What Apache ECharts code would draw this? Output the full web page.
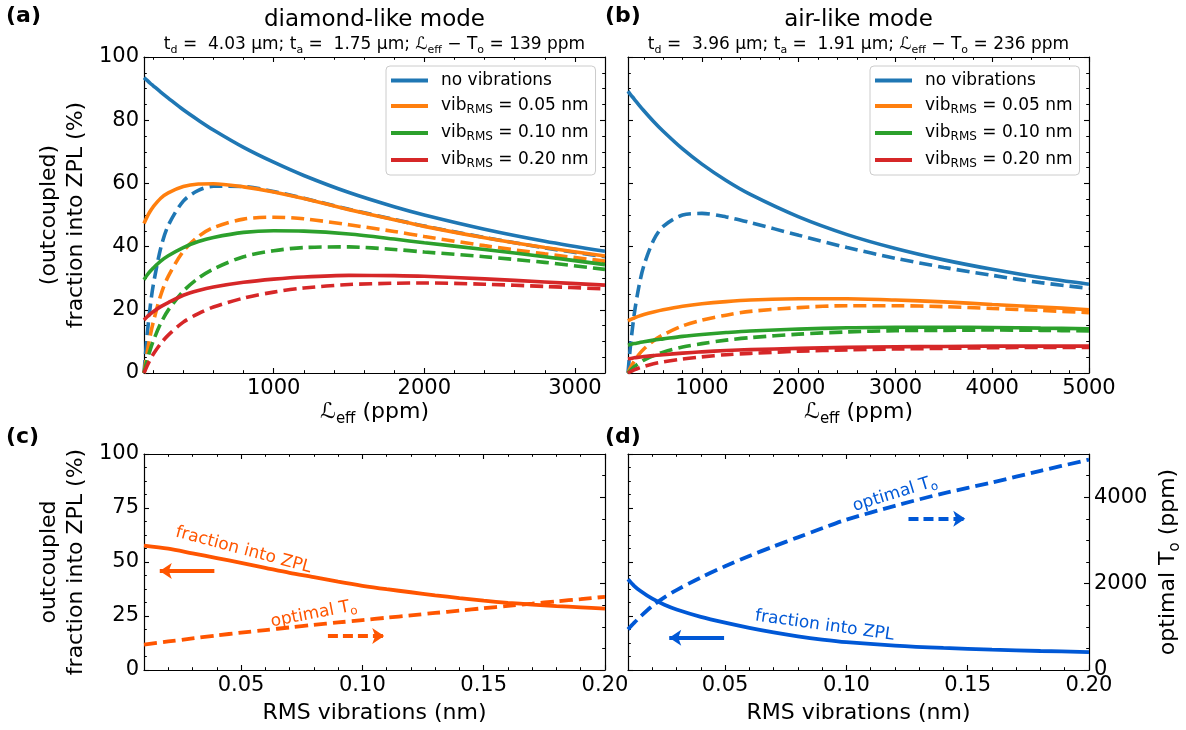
<!DOCTYPE html>
<html><head><meta charset="utf-8">
<script src="https://cdn.jsdelivr.net/npm/echarts@6/dist/echarts.min.js"></script>
<style>html,body{margin:0;padding:0;background:#fff}#c{width:1186px;height:730px}</style>
</head><body><div id="c"></div><script>
// ---------------- DATA ----------------
// (a) diamond-like mode: x = L_eff (ppm); solid = fraction into ZPL, dashed = outcoupled fraction (%)
const xA = [139,160,180,200,250,300,400,500,600,800,1000,1200,1500,1800,2000,2400,2800,3200];
const aNone    = [93.5,92.6,91.7,90.9,88.9,87.0,83.3,80.0,76.9,71.4,66.7,62.5,57.1,52.6,50.0,45.5,41.7,38.5];
const aNoneOut = [0,12.1,20.9,27.7,39.5,46.7,54.4,57.8,59.1,59.0,57.4,55.3,51.8,48.6,46.5,42.9,39.6,36.8];
const a005     = [47.3,49.5,51.2,52.6,55.3,57.0,59.0,59.8,59.9,58.9,57.3,55.2,51.7,48.5,46.4,42.8,39.7,37.0];
const a005Out  = [0,6.5,11.7,16.0,24.6,30.6,38.5,43.2,46.0,48.7,49.3,48.8,46.9,44.8,43.2,40.3,37.7,35.4];
const a010     = [29.5,31.0,32.2,33.2,35.4,37.1,39.7,41.6,42.9,44.5,45.0,44.9,44.0,42.4,41.2,39.1,36.8,34.3];
const a010Out  = [0,4.1,7.3,10.1,15.7,19.9,25.9,30.0,32.9,36.8,38.7,39.7,39.9,39.1,38.3,36.8,35.0,32.8];
const a020     = [16.8,17.8,18.6,19.4,21.0,22.3,24.6,26.1,27.2,28.7,29.7,30.4,30.9,30.8,30.6,29.8,28.8,27.8];
const a020Out  = [0,2.3,4.2,5.9,9.3,12.0,16.1,18.8,20.9,23.7,25.6,26.9,28.0,28.4,28.5,28.1,27.4,26.6];
// (b) air-like mode
const xB = [236,260,300,350,400,500,600,800,1000,1250,1500,2000,2500,3000,3500,4000,4500,5000];
const bNone    = [89.2,88.2,86.7,84.8,83.0,79.6,76.5,70.9,66.1,60.9,56.5,49.4,43.8,39.4,35.8,32.8,30.2,28.1];
const bNoneOut = [0,8.1,18.5,27.6,34.0,42.0,46.4,50.0,50.5,49.4,47.6,43.6,39.7,36.3,33.4,30.9,28.6,26.8];
const b005     = [16.5,16.9,17.4,18.0,18.5,19.3,20.0,21.1,21.9,22.6,23.1,23.5,23.5,23.1,22.5,21.7,20.9,20.0];
const b005Out  = [0,1.6,3.7,5.9,7.6,10.2,12.1,14.9,16.7,18.3,19.5,20.7,21.3,21.3,21.0,20.4,19.8,19.1];
const b010     = [8.8,9.0,9.3,9.6,9.9,10.4,10.8,11.6,12.2,12.8,13.3,13.9,14.3,14.5,14.5,14.4,14.2,14.0];
const b010Out  = [0,0.8,2.0,3.1,4.1,5.5,6.6,8.2,9.3,10.4,11.2,12.3,13.0,13.4,13.5,13.6,13.5,13.3];
const b020     = [4.5,4.6,4.8,5.0,5.2,5.5,5.8,6.3,6.7,7.1,7.4,7.8,8.1,8.3,8.4,8.5,8.5,8.5];
const b020Out  = [0,0.4,1.0,1.6,2.1,2.9,3.5,4.4,5.1,5.8,6.2,6.9,7.3,7.6,7.8,8.0,8.1,8.1];
// (c) diamond-like: vs RMS vibrations (nm)
const xC = [0.01,0.02,0.03,0.04,0.05,0.06,0.07,0.08,0.09,0.10,0.11,0.12,0.13,0.14,0.15,0.16,0.17,0.18,0.19,0.20];
const cFrac = [57.6,56.2,54.0,51.8,49.6,47.3,45.0,43.0,40.9,39.0,37.4,36.0,34.6,33.3,32.1,31.1,30.3,29.6,29.0,28.4];
const cOpt  = [590,660,730,800,865,925,985,1045,1100,1155,1210,1265,1320,1375,1430,1485,1535,1590,1640,1695];
// (d) air-like
const xD = [0.01,0.0125,0.015,0.02,0.025,0.03,0.04,0.05,0.06,0.07,0.08,0.09,0.10,0.12,0.14,0.16,0.18,0.20];
const dFrac = [42.0,39.0,36.7,33.0,30.2,28.0,24.6,21.9,19.5,17.4,15.6,14.1,12.9,11.3,10.2,9.4,8.8,8.3];
const dOpt  = [940,1090,1230,1480,1680,1850,2140,2400,2640,2860,3070,3280,3480,3800,4090,4340,4610,4870];
// tick labels
const ticksXA = [1000,2000,3000];
const ticksXB = [1000,2000,3000,4000,5000];
const ticksYA = [0,20,40,60,80,100];
const ticksXC = [0.05,0.10,0.15,0.20];
const ticksYC = [0,25,50,75,100];
const ticksYR = [0,2000,4000];
const legendNames = ['no vibrations','vib005','vib010','vib020'];

// ---------------- STYLE / LAYOUT ----------------
const FONT = 'DejaVu Sans';
const TICK = 21, LAB = 22;
const C = {blue:'#1f77b4', orange:'#ff7f0e', green:'#2ca02c', red:'#d62728', cO:'#ff5500', cB:'#0058d6'};
const G = [
  {left:144, top:57, width:461, height:316},
  {left:628, top:57, width:461, height:316},
  {left:144, top:454, width:461, height:216},
  {left:628, top:454, width:461, height:216}
];
function range(a,b,s){const r=[];for(let i=0;;i++){const v=+(a+i*s).toFixed(6);if(v>b+1e-9)break;r.push(v);}return r;}
function minors(min,max,step,majors){
  return range(Math.ceil(min/step-1e-9)*step,max,step).filter(v=>v>=min-1e-9&&!majors.some(m=>Math.abs(m-v)<1e-9));
}
const xAxes=[], yAxes=[];
function addPair(list,g,pos,min,max,majors,mins,labelOn,fmt){
  const base={type:'value',gridIndex:g,min,max,position:pos,splitLine:{show:false},axisPointer:{show:false}};
  const idx=list.length;
  list.push(Object.assign({},base,{
    axisLine:{show:true,onZero:false,lineStyle:{color:'#000',width:1.2}},
    axisTick:{show:true,inside:true,length:5,customValues:majors,lineStyle:{color:'#000',width:1.1}},
    axisLabel:{show:labelOn,customValues:majors,formatter:fmt||(v=>String(v)),fontSize:TICK,fontFamily:FONT,color:'#000',margin:5}
  }));
  list.push(Object.assign({},base,{
    axisLine:{show:false,onZero:false},
    axisTick:{show:true,inside:true,length:2.8,customValues:mins,lineStyle:{color:'#000',width:1}},
    axisLabel:{show:false}
  }));
  return idx;
}
const f2 = v=>v.toFixed(2);
const xi=[], yi=[], yr=[];
// (a)
xi[0]=addPair(xAxes,0,'bottom',139,3200,ticksXA,minors(139,3200,200,ticksXA),true);
addPair(xAxes,0,'top',139,3200,ticksXA,minors(139,3200,200,ticksXA),false);
yi[0]=addPair(yAxes,0,'left',0,100,ticksYA,minors(0,100,5,ticksYA),true);
addPair(yAxes,0,'right',0,100,ticksYA,minors(0,100,5,ticksYA),false);
// (b)
xi[1]=addPair(xAxes,1,'bottom',236,5000,ticksXB,minors(236,5000,200,ticksXB),true);
addPair(xAxes,1,'top',236,5000,ticksXB,minors(236,5000,200,ticksXB),false);
yi[1]=addPair(yAxes,1,'left',0,100,ticksYA,minors(0,100,5,ticksYA),false);
addPair(yAxes,1,'right',0,100,ticksYA,minors(0,100,5,ticksYA),false);
// (c)
xi[2]=addPair(xAxes,2,'bottom',0.01,0.20,ticksXC,minors(0.01,0.20,0.01,ticksXC),true,f2);
addPair(xAxes,2,'top',0.01,0.20,ticksXC,minors(0.01,0.20,0.01,ticksXC),false);
yi[2]=addPair(yAxes,2,'left',0,100,ticksYC,minors(0,100,6.25,ticksYC),true);
yr[2]=addPair(yAxes,2,'right',0,5000,ticksYR,minors(0,5000,500,ticksYR),false);
// (d)
xi[3]=addPair(xAxes,3,'bottom',0.01,0.20,ticksXC,minors(0.01,0.20,0.01,ticksXC),true,f2);
addPair(xAxes,3,'top',0.01,0.20,ticksXC,minors(0.01,0.20,0.01,ticksXC),false);
yi[3]=addPair(yAxes,3,'left',0,100,ticksYC,minors(0,100,6.25,ticksYC),false);
yr[3]=addPair(yAxes,3,'right',0,5000,ticksYR,minors(0,5000,500,ticksYR),true);

function line(name,xs,ys,color,dashed,xa,ya,w){
  return {type:'line',name,xAxisIndex:xa,yAxisIndex:ya,data:xs.map((x,i)=>[x,ys[i]]),
    showSymbol:false,symbol:'none',smooth:0.3,silent:true,
    lineStyle:{color,width:w||3.6,type:dashed?[13,6]:'solid',cap:'butt'},itemStyle:{color}};
}
const series=[
  line('no vibrations',xA,aNone,C.blue,false,xi[0],yi[0]),
  line('a0o',xA,aNoneOut,C.blue,true,xi[0],yi[0]),
  line('vib005',xA,a005,C.orange,false,xi[0],yi[0]),
  line('a1o',xA,a005Out,C.orange,true,xi[0],yi[0]),
  line('vib010',xA,a010,C.green,false,xi[0],yi[0]),
  line('a2o',xA,a010Out,C.green,true,xi[0],yi[0]),
  line('vib020',xA,a020,C.red,false,xi[0],yi[0]),
  line('a3o',xA,a020Out,C.red,true,xi[0],yi[0]),
  line('no vibrations',xB,bNone,C.blue,false,xi[1],yi[1]),
  line('b0o',xB,bNoneOut,C.blue,true,xi[1],yi[1]),
  line('vib005',xB,b005,C.orange,false,xi[1],yi[1]),
  line('b1o',xB,b005Out,C.orange,true,xi[1],yi[1]),
  line('vib010',xB,b010,C.green,false,xi[1],yi[1]),
  line('b2o',xB,b010Out,C.green,true,xi[1],yi[1]),
  line('vib020',xB,b020,C.red,false,xi[1],yi[1]),
  line('b3o',xB,b020Out,C.red,true,xi[1],yi[1]),
  line('cf',xC,cFrac,C.cO,false,xi[2],yi[2],3.8),
  line('co',xC,cOpt,C.cO,true,xi[2],yr[2],3.8),
  line('df',xD,dFrac,C.cB,false,xi[3],yi[3],3.8),
  line('do',xD,dOpt,C.cB,true,xi[3],yr[3],3.8)
];
// annotation arrows (data coords on the left axes)
function arrows(color, solidFrom, solidTo, dashFrom, dashTo){
  return {silent:true,symbol:['none','arrow'],symbolSize:12,label:{show:false},
    lineStyle:{color,width:3.8,type:'solid'},
    data:[[{coord:solidFrom},{coord:solidTo}],
          [{coord:dashFrom,lineStyle:{type:[10,5],color,width:3.8}},{coord:dashTo}]]};
}
series[16].markLine=arrows(C.cO,[0.039,45.8],[0.0165,45.8],[0.0858,15.7],[0.109,15.7]);
series[18].markLine=arrows(C.cB,[0.0496,14.9],[0.027,14.9],[0.1256,70],[0.149,70]);

const richLeg={t:{fontSize:17,fontFamily:FONT,color:'#000',lineHeight:20},
  s:{fontSize:12,fontFamily:FONT,color:'#000',lineHeight:12,verticalAlign:'bottom'},
  sp:{width:8}};
const legFmt=n=>({'no vibrations':'{sp| }{t|no vibrations}','vib005':'{sp| }{t|vib}{s|RMS}{t| = 0.05 nm}',
  'vib010':'{sp| }{t|vib}{s|RMS}{t| = 0.10 nm}','vib020':'{sp| }{t|vib}{s|RMS}{t| = 0.20 nm}'})[n];
function legend(left){
  return {left,top:66,orient:'vertical',data:legendNames,icon:'rect',itemWidth:37,itemHeight:4,itemGap:8.5,
    padding:[6,7,5,5],backgroundColor:'rgba(255,255,255,0.85)',borderColor:'#cccccc',borderWidth:1,borderRadius:4,
    selectedMode:false,formatter:legFmt,textStyle:{fontFamily:FONT,fontSize:17,color:'#000',rich:richLeg}};
}

const chart=echarts.init(document.getElementById('c'),null,{renderer:'canvas'});
chart.setOption({
  animation:false,backgroundColor:'#fff',
  textStyle:{fontFamily:FONT},
  grid:G.map(g=>Object.assign({containLabel:false},g)),
  xAxis:xAxes,yAxis:yAxes,series,
  legend:[legend(386),legend(870)]
});

// ---------------- TEXTS ----------------
function rich(size,sub){
  return {n:{fontSize:size,fontFamily:FONT,fill:'#000',lineHeight:Math.round(size*1.3)},
          s:{fontSize:sub,fontFamily:FONT,fill:'#000',lineHeight:sub,verticalAlign:'bottom'}};
}
function txt(x,y,text,size,opt){
  opt=opt||{};
  return {type:'text',x,y,rotation:opt.rot||0,z:100,silent:true,
    style:{text,fontSize:size,fontFamily:FONT,fontWeight:opt.bold?'bold':'normal',fill:opt.color||'#000',
      align:opt.align||'center',verticalAlign:'middle',rich:opt.rich}};
}
const R90=Math.PI/2, D=Math.PI/180;
const gr=[];
const cxA=G[0].left+G[0].width/2, cxB=G[1].left+G[1].width/2;
gr.push(txt(6,16,'(a)',22,{bold:true,align:'left'}));
gr.push(txt(605,16,'(b)',22,{bold:true,align:'left'}));
gr.push(txt(6,437,'(c)',22,{bold:true,align:'left'}));
gr.push(txt(605,437,'(d)',22,{bold:true,align:'left'}));
gr.push(txt(cxA,20,'diamond-like mode',23));
gr.push(txt(cxB,20,'air-like mode',23));
gr.push(txt(cxA,45,'{n|t}{s|d}{n| =  4.03 μm; t}{s|a}{n| =  1.75 μm; ℒ}{s|eff}{n| − T}{s|o}{n| = 139 ppm}',17,{rich:rich(17,11)}));
gr.push(txt(cxB,45,'{n|t}{s|d}{n| =  3.96 μm; t}{s|a}{n| =  1.91 μm; ℒ}{s|eff}{n| − T}{s|o}{n| = 236 ppm}',17,{rich:rich(17,11)}));
gr.push(txt(49,215,'(outcoupled)',LAB,{rot:R90}));
gr.push(txt(76,215,'fraction into ZPL (%)',LAB,{rot:R90}));
gr.push(txt(49,562,'outcoupled',LAB,{rot:R90}));
gr.push(txt(76,562,'fraction into ZPL (%)',LAB,{rot:R90}));
gr.push(txt(cxA,412,'{n|ℒ}{s|eff}{n| (ppm)}',LAB,{rich:rich(LAB,15)}));
gr.push(txt(cxB,412,'{n|ℒ}{s|eff}{n| (ppm)}',LAB,{rich:rich(LAB,15)}));
gr.push(txt(cxA,713,'RMS vibrations (nm)',LAB));
gr.push(txt(cxB,713,'RMS vibrations (nm)',LAB));
gr.push(txt(1168,562,'{n|optimal T}{s|o}{n| (ppm)}',LAB,{rot:R90,rich:rich(LAB,15)}));
// in-plot annotations positioned through the axes
const P=(g,x,y)=>chart.convertToPixel({xAxisIndex:xi[g],yAxisIndex:yi[g]},[x,y]);
function ann(g,x,y,text,rot,color){
  const p=P(g,x,y);
  const r={n:{fontSize:17,fontFamily:FONT,fill:color,lineHeight:22},s:{fontSize:12,fontFamily:FONT,fill:color,lineHeight:12,verticalAlign:'bottom'}};
  return txt(p[0],p[1],text,17,{rot:rot*D,color,rich:r});
}
gr.push(ann(2,0.051,55.5,'{n|fraction into ZPL}',-15,C.cO));
gr.push(ann(2,0.080,26.0,'{n|optimal T}{s|o}',11,C.cO));
gr.push(ann(3,0.120,81.5,'{n|optimal T}{s|o}',17,C.cB));
gr.push(ann(3,0.091,20.5,'{n|fraction into ZPL}',-8,C.cB));
chart.setOption({graphic:gr});
</script></body></html>
